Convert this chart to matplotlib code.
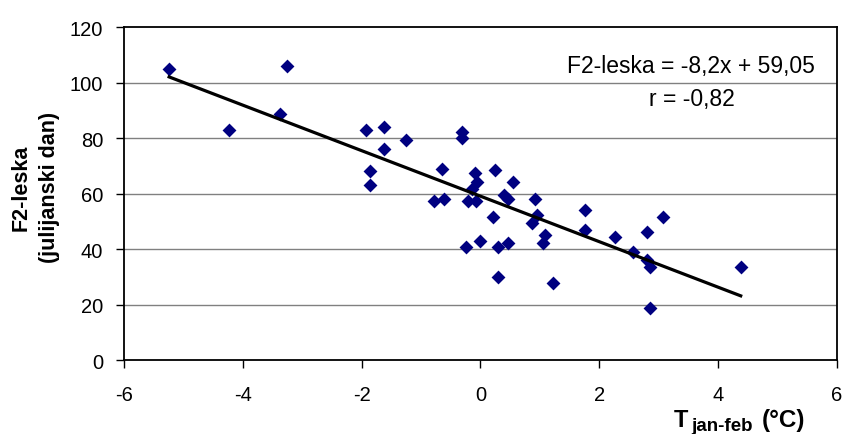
import numpy as np
import matplotlib
matplotlib.use('Agg')
import matplotlib.pyplot as plt

plt.rcParams['font.family'] = ['Liberation Sans', 'DejaVu Sans']

# T jan-feb (C) vs F2-leska (julian day)
temp = [-5.24, -3.26, -4.24, -3.38, -1.92, -1.62, -1.25, -1.62, -1.86, -1.86,
        -0.31, -0.31, -0.64, -0.09, -0.06, 0.24, -0.15, -0.79, -0.61, -0.21,
        -0.07, 0.21, 0.54, 0.39, 0.46, 0.91, 0.95, 0.86, 1.09, 1.06,
        1.76, 1.76, 2.26, -0.24, 0.0, 0.30, 0.46, 0.30, 1.22, 3.08,
        2.80, 2.56, 2.80, 2.86, 2.86, 4.38]
day = [105, 106, 83, 88.5, 83, 84, 79.4, 76, 68.2, 63.2,
       82, 80, 69, 67.4, 64.3, 68.3, 61.5, 57.2, 57.9, 57.2,
       57.2, 51.5, 64.3, 59.5, 58, 57.9, 52.4, 49.5, 45.2, 42.2,
       54, 46.9, 44.2, 40.9, 43, 40.9, 42.2, 30, 27.9, 51.4,
       46.1, 39, 36, 33.7, 18.9, 33.7]
slope = -8.2
intercept = 59.05
r_val = -0.82

xticks = [-6, -4, -2, 0, 2, 4, 6]
yticks = [0, 20, 40, 60, 80, 100, 120]

fig = plt.figure(figsize=(8.45, 4.35), dpi=100)
ax = fig.add_axes([0.1467, 0.170, 0.8438, 0.7656])

for yv in yticks[1:-1]:
    ax.axhline(yv, color='#808080', lw=1.0, zorder=0)

ax.scatter(temp, day, marker='D', s=50, color='#000080', linewidths=0, zorder=3)

xl = np.array([min(temp), max(temp)])
ax.plot(xl, slope * xl + intercept, color='black', lw=2.3, zorder=4)

ax.set_xlim(-6, 6)
ax.set_ylim(0, 120)
ax.set_xticks(xticks)
ax.set_yticks(yticks)
ax.set_xticklabels([str(v) for v in xticks])
ax.set_yticklabels([str(v) for v in yticks])
ax.tick_params(axis='both', direction='out', length=6, width=1, labelsize=14.5, color='black')
ax.tick_params(axis='x', pad=12)
ax.tick_params(axis='y', pad=9)
for s in ax.spines.values():
    s.set_linewidth(1.3)
    s.set_color('black')

ax.text(3.54, 106, 'F2-leska = -8,2x + 59,05', fontsize=16.5, ha='center', va='center')
ax.text(3.56, 94.1, 'r = ' + str(r_val).replace('.', ','), fontsize=16.5, ha='center', va='center')

fig.text(0.042, 0.568, 'F2-leska\n(julijanski dan)', rotation=90, fontsize=15.5,
         fontweight='bold', ha='center', va='center', multialignment='center',
         linespacing=1.45)

fig.text(0.797, 1 - 427 / 435, 'T', fontsize=17, fontweight='bold', va='baseline')
fig.text(0.818, 1 - 431 / 435, 'jan-feb', fontsize=13.5, fontweight='bold', va='baseline')
fig.text(0.902, 1 - 427 / 435, '(°C)', fontsize=17.5, fontweight='bold', va='baseline')

fig.savefig('out.png', dpi=100)
